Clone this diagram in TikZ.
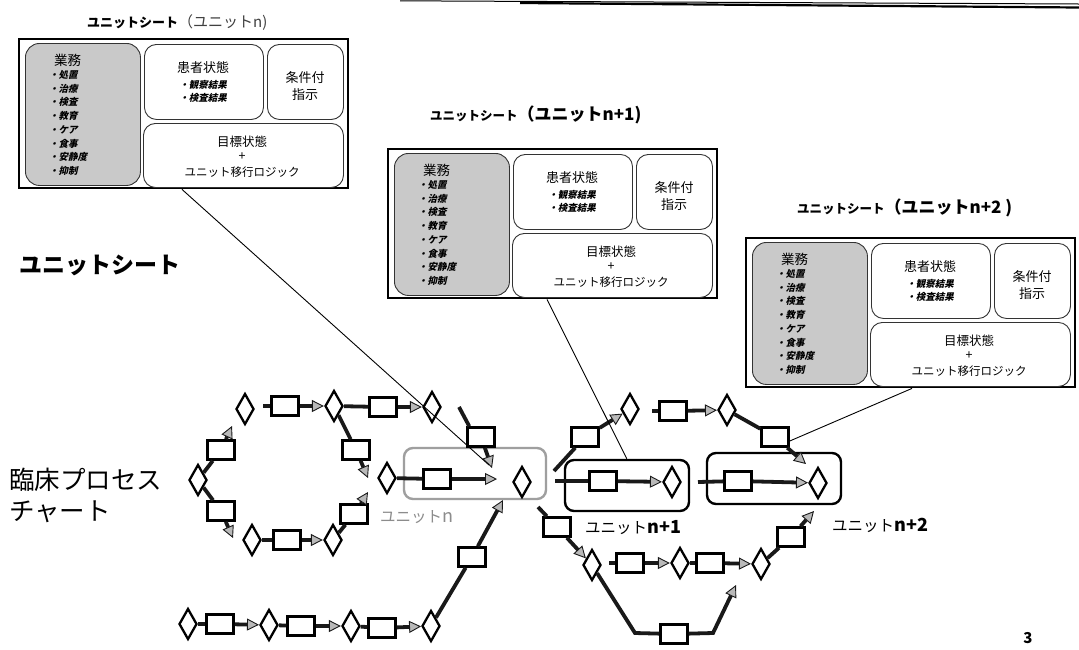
\documentclass[tikz,border=0pt]{standalone}
\usepackage{fontspec}
\setmainfont{Noto Sans CJK JP}
\newfontfamily\jpsl{Noto Sans CJK JP}[FakeSlant=0.22]
\usetikzlibrary{shapes.geometric,arrows.meta}

\tikzset{
  sheetframe/.style={draw=black, line width=2.4pt, fill=white, anchor=north west,
    minimum width=329pt, minimum height=149pt, inner sep=0pt},
  taskbox/.style={draw=black!80, line width=0.9pt, fill=gray!42, rounded corners=14pt,
    anchor=north west, inner sep=0pt},
  databox/.style={draw=black!80, line width=0.9pt, fill=white, rounded corners=12pt,
    anchor=north west, inner sep=0pt},
  headtext/.style={inner sep=0pt, font=\fontsize{13}{14}\selectfont},
  itemtext/.style={inner sep=0pt, font=\jpsl\bfseries\fontsize{9.5}{10}\selectfont},
  proc/.style={draw=black, line width=2.5pt, fill=white, minimum width=27pt,
    minimum height=19pt, inner sep=0pt},
  dec/.style={diamond, draw=black, line width=2.3pt, fill=white, minimum width=18pt,
    minimum height=31pt, inner sep=0pt},
  unitbox/.style={draw=black, line width=2.4pt, rounded corners=9pt, inner sep=0pt},
  unitlabel/.style={anchor=west, inner sep=0pt, font=\fontsize{15.5}{17}\selectfont},
  link/.style={line width=3.8pt, draw=black!90},
  flow/.style={link, -{Triangle[length=12pt,width=12pt,line width=0.9pt,fill=gray!55]}},
  leader/.style={line width=0.9pt, draw=black},
  unitsheet/.pic={
    \node[sheetframe] (-frame) at (0,0) {};
    \node[taskbox, minimum width=115pt, minimum height=142pt] (-task) at (7,5) {};
    \node[databox, minimum width=119pt, minimum height=75pt] (-state) at (126,6) {};
    \node[databox, minimum width=76pt, minimum height=75pt] (-cond) at (249,6) {};
    \node[databox, minimum width=200pt, minimum height=64pt] (-goal) at (125,85) {};
    % business list
    \node[anchor=west, inner sep=0pt, font=\fontsize{13.5}{14}\selectfont] (-tasktitle) at (36,22) {業務};
    \foreach \w [count=\k] in {処置,治療,検査,教育,ケア,食事,安静度,抑制}
      \node[itemtext, anchor=west] (-item\k) at (31,{37+13.7*(\k-1)}) {・\w};
    % patient state
    \node[headtext] (-statetitle) at (185,30) {患者状態};
    \node[itemtext] (-obs) at (185,47) {・観察結果};
    \node[itemtext] (-exam) at (185,60) {・検査結果};
    % conditional instruction
    \node[headtext] (-condtext1) at (287,40) {条件付};
    \node[headtext] (-condtext2) at (287,57) {指示};
    % goal state
    \node[inner sep=0pt, font=\fontsize{12.5}{13}\selectfont] (-goaltext) at (224,104) {目標状態};
    \node[inner sep=0pt, font=\fontsize{12.5}{13}\selectfont] (-plus) at (224,119) {+};
    \node[inner sep=0pt, font=\fontsize{11.5}{12}\selectfont] (-logic) at (224,134) {ユニット移行ロジック};
  }
}

\begin{document}
\begin{tikzpicture}[x=1pt,y=-1pt]
\useasboundingbox (0,0) rectangle (1079,649);
\fill[white] (0,0) rectangle (1079,649);

% header rule
\draw[line width=1pt] (400,0.8) -- (1079,4);
\draw[line width=2.2pt] (520,3) -- (1079,7.5);

% unit sheets
\pic (s1) at (18,38) {unitsheet};
\pic (s2) at (387,148) {unitsheet};
\pic (s3) at (745,237) {unitsheet};

\node[anchor=west, inner sep=0pt] (title1) at (87,23)
  {{\bfseries\fontsize{13}{14}\selectfont ユニットシート}{\fontsize{15}{16}\selectfont\color{black!75}（ユニットn)}};
\node[anchor=west, inner sep=0pt] (title2) at (430,115)
  {{\bfseries\fontsize{12.5}{14}\selectfont ユニットシート}{\bfseries\fontsize{17}{18}\selectfont（ユニットn+1)}};
\node[anchor=west, inner sep=0pt] (title3) at (797,208)
  {{\bfseries\fontsize{12.5}{14}\selectfont ユニットシート}{\bfseries\fontsize{17}{18}\selectfont（ユニットn+2 )}};

% side captions
\node[anchor=west, inner sep=0pt, font=\bfseries\fontsize{23}{26}\selectfont] (capsheet) at (19,265) {ユニットシート};
\node[anchor=west, inner sep=0pt, font=\fontsize{25.5}{28}\selectfont] (capchart1) at (9,480) {臨床プロセス};
\node[anchor=west, inner sep=0pt, font=\fontsize{25.5}{28}\selectfont] (capchart2) at (9,512) {チャート};

% unit frames on the chart
\node[unitbox, draw=gray!75, minimum width=142pt, minimum height=51pt] (unitn) at (475,473.5) {};
\node[unitbox, minimum width=124pt, minimum height=51pt] (unitn1) at (627,485.5) {};
\node[unitbox, minimum width=134pt, minimum height=51pt] (unitn2) at (774,478.5) {};
\node[unitlabel, text=gray!90] (labn) at (380,517) {ユニット{\fontsize{18}{18}\selectfont n}};
\node[unitlabel] (labn1) at (585,528) {ユニット{\bfseries\fontsize{18}{18}\selectfont n+1}};
\node[unitlabel] (labn2) at (832,525) {ユニット{\bfseries\fontsize{18}{18}\selectfont n+2}};

% decisions
\node[dec] (d1) at (245,409) {};
\node[dec] (d2) at (334,406) {};
\node[dec] (d3) at (432,407) {};
\node[dec] (d4) at (387,478) {};
\node[dec] (d5) at (522,482) {};
\node[dec] (dl) at (198,480) {};
\node[dec] (dl1) at (252,540) {};
\node[dec] (dl2) at (333,540) {};
\node[dec] (db1) at (188,624) {};
\node[dec] (db2) at (269,625) {};
\node[dec] (db3) at (351,626) {};
\node[dec] (db4) at (431,626) {};
\node[dec] (d6) at (630,409) {};
\node[dec] (d7) at (727,410) {};
\node[dec] (d8) at (672,482) {};
\node[dec] (d9) at (818,483) {};
\node[dec] (d10) at (592,565) {};
\node[dec] (d11) at (680,563) {};
\node[dec] (d12) at (761,564) {};

% process steps
\node[proc] (r1) at (285,406) {};
\node[proc] (r2) at (383,407) {};
\node[proc] (r3) at (481,437) {};
\node[proc] (r4) at (437,479) {};
\node[proc] (r5) at (472,557) {};
\node[proc] (rb1) at (220,624) {};
\node[proc] (rb2) at (301,626) {};
\node[proc] (rb3) at (382,628) {};
\node[proc] (rl1) at (221,450) {};
\node[proc] (rl2) at (221,511) {};
\node[proc] (rl3) at (287,540) {};
\node[proc] (rr1) at (356,450) {};
\node[proc] (rr2) at (354,514) {};
\node[proc] (r6) at (585,437) {};
\node[proc] (r7) at (673,411) {};
\node[proc] (r8) at (775,437) {};
\node[proc] (r9) at (603,481) {};
\node[proc] (r10) at (738,481) {};
\node[proc] (r11) at (791,537) {};
\node[proc] (r12) at (557,527) {};
\node[proc] (r13) at (630,563) {};
\node[proc] (r14) at (710,563) {};
\node[proc] (r15) at (674,634) {};

% free ends of connectors
\coordinate (cA) at (263,406);
\coordinate (cB) at (459,407);
\coordinate (cC) at (492,468);
\coordinate (cD) at (497,479);
\coordinate (cE) at (503,500);
\coordinate (cF) at (232,426);
\coordinate (cG) at (233,538);
\coordinate (cH) at (368,492);
\coordinate (cI) at (368,478);
\coordinate (cJ) at (554,471);
\coordinate (cL) at (652,411);
\coordinate (cM) at (806,464);
\coordinate (cN) at (555,481);
\coordinate (cO) at (698,482);
\coordinate (cP) at (814,511);
\coordinate (cQ) at (538,507);
\coordinate (cR) at (609,563);
\coordinate (cS) at (635,633);
\coordinate (cT) at (713,633);
\coordinate (cU) at (736,585);
\coordinate (cV) at (489,465);

% upper loop
\draw[link] (cA) -- (r1);
\draw[flow] (r1) -- (d2);
\draw[link] (d2) -- (r2);
\draw[flow] (r2) -- (d3);
\draw[link] (cB) -- ([xshift=3pt]r3.north west);
\draw[flow] (r3) -- (cC);
\draw[link] (dl) -- (rl1);
\draw[flow] (rl1) -- (cF);
\draw[link] (dl) -- (rl2);
\draw[flow] (rl2) -- (cG);
\draw[link] (dl1) -- (rl3);
\draw[flow] (rl3) -- (dl2);
\draw[link] (dl2) -- (rr2);
\draw[flow] (rr2) -- (cH);
\draw[link] (d2) -- (rr1);
\draw[flow] (rr1) -- (cI);
\draw[link] (d4) -- (r4);
\draw[flow] (r4) -- (cD);

% lower path
\draw[link] (db1) -- (rb1);
\draw[flow] (rb1) -- (db2);
\draw[link] (db2) -- (rb2);
\draw[flow] (rb2) -- (db3);
\draw[link] (db3) -- (rb3);
\draw[flow] (rb3) -- (db4);
\draw[link] (db4) -- (r5);
\draw[flow] (r5) -- (cE);

% right side
\draw[link] (cJ) -- (r6);
\draw[flow] (r6) -- (d6);
\draw[link] (cL) -- (r7);
\draw[flow] (r7) -- (d7);
\draw[link] (d7) -- (r8);
\draw[flow] (r8) -- (cM);
\draw[link] (cN) -- (r9);
\draw[flow] (r9) -- (d8);
\draw[link] (cO) -- (r10);
\draw[flow] (r10) -- (d9);
\draw[link] (cQ) -- (r12);
\draw[flow] (r12) -- (d10);
\draw[link] (cR) -- (r13);
\draw[flow] (r13) -- (d11);
\draw[link] (d11) -- (r14);
\draw[flow] (r14) -- (d12);
\draw[link] (d12) -- (r11);
\draw[flow] (r11) -- (cP);
\draw[link] (d10) -- (cS) -- (r15);
\draw[flow] (r15) -- (cT) -- (cU);

% sheet leaders
\draw[leader] ([xshift=164pt]s1-frame.south west) -- (cV);
\draw[leader] ([xshift=160pt]s2-frame.south west) -- ([xshift=63pt]unitn1.north west);
\draw[leader] ([xshift=167pt]s3-frame.south west) -- ([yshift=-4pt]r8.east);

% page number
\node[inner sep=0pt, font=\bfseries\fontsize{15}{16}\selectfont] (pagenum) at (1028,638) {3};
\end{tikzpicture}
\end{document}
